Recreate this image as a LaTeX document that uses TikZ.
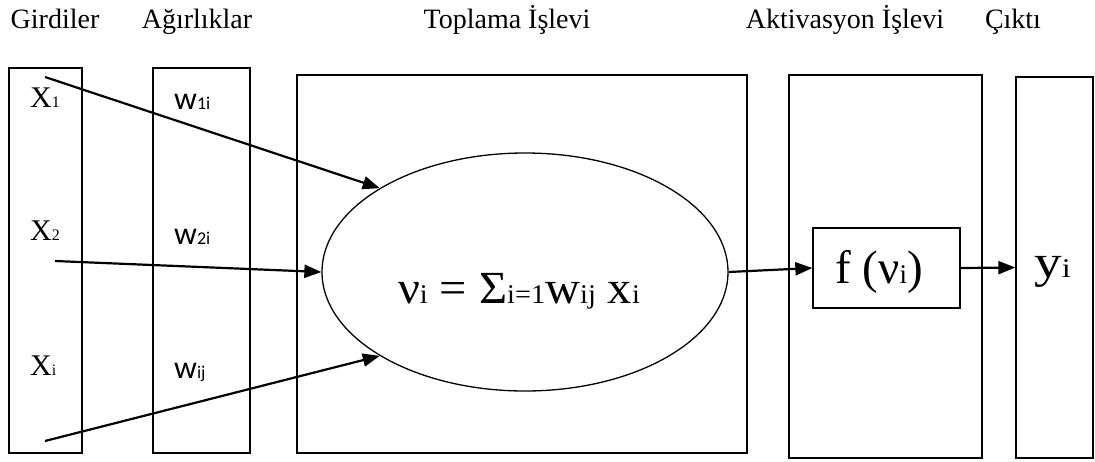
\documentclass[tikz,border=0pt]{standalone}
\usepackage{fontspec}
\setmainfont{Liberation Serif}
\newfontfamily\calfont{Carlito}
\usetikzlibrary{arrows.meta,shapes.geometric}
\tikzset{
  panel/.style={draw, line width=1.3pt, inner sep=0pt},
  conn/.style={line width=2.2pt, -{Triangle[length=17pt,width=13pt]}},
  title/.style={anchor=base, inner sep=0pt, font=\fontsize{28}{30}\selectfont},
  xlab/.style={anchor=base west, inner sep=0pt, font=\fontsize{30}{32}\selectfont},
  wlab/.style={anchor=base west, inner sep=0pt, font=\calfont\fontsize{32}{34}\selectfont},
}
\newcommand{\sbx}[1]{{\fontsize{16}{16}\selectfont #1}}
\newcommand{\sbw}[1]{{\fontsize{18}{18}\selectfont #1}}
\newcommand{\sbf}[1]{{\fontsize{27}{27}\selectfont #1}}
\begin{document}
\begin{tikzpicture}[x=1pt,y=-1pt]
\useasboundingbox (0,0) rectangle (1095,461);
% titles
\node[title] (t1) at (55,28) {Girdiler};
\node[title] (t2) at (197,28) {Ağırlıklar};
\node[title] (t3) at (507,28) {Toplama İşlevi};
\node[title] (t4) at (845,28) {Aktivasyon İşlevi};
\node[title] (t5) at (1013,28) {Çıktı};
% panels
\draw[line width=1.3pt] (9,68) rectangle (82,453);
\draw[line width=1.3pt] (153,68) rectangle (250,453);
\draw[line width=1.3pt] (297,75) rectangle (747,453);
\draw[line width=1.3pt] (789,75) rectangle (982,458);
\node[panel, minimum width=77pt, minimum height=381pt] (out) at (1054.5,267.5) {};
\node[panel, minimum width=147pt, minimum height=80pt] (fbox) at (886.5,268) {};
\node[draw, line width=1.3pt, ellipse, inner sep=0pt, minimum width=406pt, minimum height=238pt] (ell) at (525,272) {};
% labels
\node[xlab] (x1) at (30,107) {X\sbx{1}};
\node[xlab] (x2) at (30,240) {X\sbx{2}};
\node[xlab] (xi) at (30,375) {X\sbx{i}};
\node[wlab] (w1) at (174,109) {w\sbw{1i}};
\node[wlab] (w2) at (174,244) {w\sbw{2i}};
\node[wlab] (wj) at (174,378) {w\sbw{ij}};
\node[anchor=base, inner sep=0pt] (form) at (519,303) {\scalebox{1.05}[1]{\fontsize{46}{48}\selectfont ν\sbf{i} = Σ\sbf{i=1}w\sbf{ij} x\sbf{i}}};
\node[anchor=base west, inner sep=0pt] (fl) at (835,283) {\fontsize{47}{48}\selectfont f (ν\sbf{i})};
\node[anchor=base west, inner sep=0pt] (yl) at (1034,277) {\scalebox{1.2}[1]{\fontsize{46}{48}\selectfont y\sbf{i}}};
% connector ends
\coordinate (s1) at (45,77);
\coordinate (s2) at (55,261);
\coordinate (s3) at (45,441);
\draw[conn] (s1) -- (ell.150);
\draw[conn] (s2) -- (ell.west);
\draw[conn] (s3) -- (ell.210);
\draw[conn] (ell.east) -- (fbox.west);
\draw[conn] (fbox.east) -- (out.west);
\end{tikzpicture}
\end{document}
